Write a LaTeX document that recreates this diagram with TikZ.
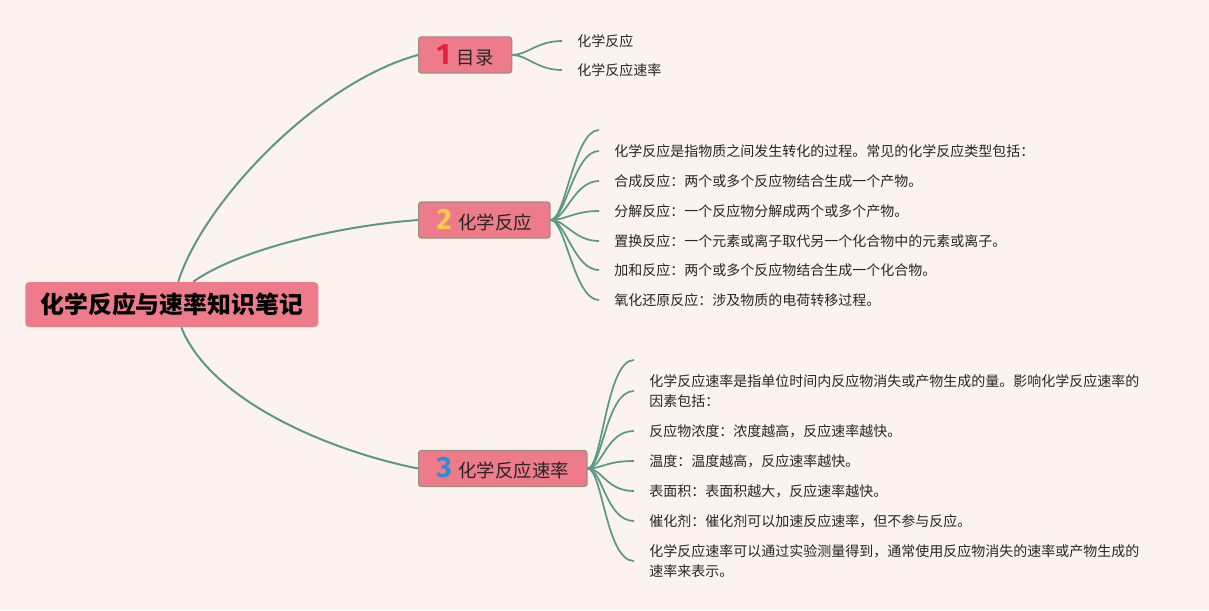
\documentclass[tikz,border=0pt]{standalone}
\usepackage{fontspec}
\setmainfont{Noto Sans CJK SC}
\newfontfamily\numfont{Fira Sans}
\usepackage{tikz}
\usetikzlibrary{positioning,calc}
\definecolor{bgc}{HTML}{FDF3EE}
\definecolor{boxfill}{HTML}{EE7B89}
\definecolor{boxline}{HTML}{9C8C88}
\definecolor{linkc}{HTML}{5B9886}
\definecolor{txtc}{HTML}{262626}
\definecolor{numA}{HTML}{E3223B}
\definecolor{numB}{HTML}{F8CB4A}
\definecolor{numC}{HTML}{2F8EDC}
\def\px{0.75pt}
\tikzset{
  rootbox/.style={fill=boxfill, rounded corners=3pt, minimum height=45*\px, minimum width=293*\px,
               inner xsep=10*\px, font=\fontsize{17.9}{20}\selectfont\bfseries, text=black, anchor=west},
  topic/.style={fill=boxfill, draw=boxline, line width=0.9pt, rounded corners=2pt, minimum height=36*\px,
               inner xsep=18*\px, font=\fontsize{13.8}{14}\selectfont, text=txtc, anchor=west},
  leaf/.style={anchor=west, inner xsep=15*\px, inner ysep=1pt, align=left,
               font=\fontsize{10.5}{15.5}\selectfont, text=txtc},
  link/.style={draw=linkc, line width=1.5pt},
  twig/.style={draw=linkc, line width=1.3pt},
}
\newcommand{\tnum}[2]{{\numfont\bfseries\fontsize{22}{22}\selectfont\color{#1}#2}\hspace{5pt}}
\newcommand{\twig}[3][25]{\draw[twig] (#2.east) .. controls +(15,0) and +(-#1,0) .. #3;}

\begin{document}
\begin{tikzpicture}[x=\px, y=-\px]
  \fill[bgc] (0,0) rectangle (1209,610);
  \useasboundingbox (0,0) rectangle (1209,610);
  \node[rootbox] (root) at (25,304.5) {化学反应与速率知识笔记};
  \node[topic] (t1) at (418,55) {\tnum{numA}{1}目录};
  \node[topic] (t2) at (418,220) {\tnum{numB}{2}化学反应};
  \node[topic] (t3) at (418,468.5) {\tnum{numC}{3}化学反应速率};
  % main branches
  \draw[link] ([xshift=6.5*\px]root.north) .. controls +(25,-80) and +(-100,27) .. (t1.west);
  \draw[link] ([xshift=21.5*\px]root.north) .. controls +(45,-32) and +(-80,6) .. (t2.west);
  \draw[link] ([xshift=9.5*\px]root.south) .. controls +(29,73) and +(-90,-18) .. (t3.west);
  % 目录
  \node[leaf] (l11) at (562,41) {化学反应};
  \node[leaf] (l12) at (562,70) {化学反应速率};
  \twig{t1}{(l11.west)} \twig{t1}{(l12.west)}
  % 化学反应
  \coordinate (e2) at (599,130);
  \node[leaf] (l21) at (599,151) {化学反应是指物质之间发生转化的过程。常见的化学反应类型包括：};
  \node[leaf] (l22) at (599,181) {合成反应：两个或多个反应物结合生成一个产物。};
  \node[leaf] (l23) at (599,211) {分解反应：一个反应物分解成两个或多个产物。};
  \node[leaf] (l24) at (599,241) {置换反应：一个元素或离子取代另一个化合物中的元素或离子。};
  \node[leaf] (l25) at (599,270) {加和反应：两个或多个反应物结合生成一个化合物。};
  \node[leaf] (l26) at (599,300) {氧化还原反应：涉及物质的电荷转移过程。};
  \twig{t2}{(e2)}
  \foreach \i in {1,...,6}{\twig{t2}{(l2\i.west)}}
  % 化学反应速率
  \coordinate (e3) at (634,360);
  \node[leaf] (l31) at (634,391) {化学反应速率是指单位时间内反应物消失或产物生成的量。影响化学反应速率的\\因素包括：};
  \node[leaf] (l32) at (634,431) {反应物浓度：浓度越高，反应速率越快。};
  \node[leaf] (l33) at (634,461) {温度：温度越高，反应速率越快。};
  \node[leaf] (l34) at (634,491) {表面积：表面积越大，反应速率越快。};
  \node[leaf] (l35) at (634,521) {催化剂：催化剂可以加速反应速率，但不参与反应。};
  \node[leaf] (l36) at (634,561) {化学反应速率可以通过实验测量得到，通常使用反应物消失的速率或产物生成的\\速率来表示。};
  \twig[28]{t3}{(e3)}
  \foreach \i in {1,...,6}{\twig[28]{t3}{(l3\i.west)}}
\end{tikzpicture}
\end{document}
